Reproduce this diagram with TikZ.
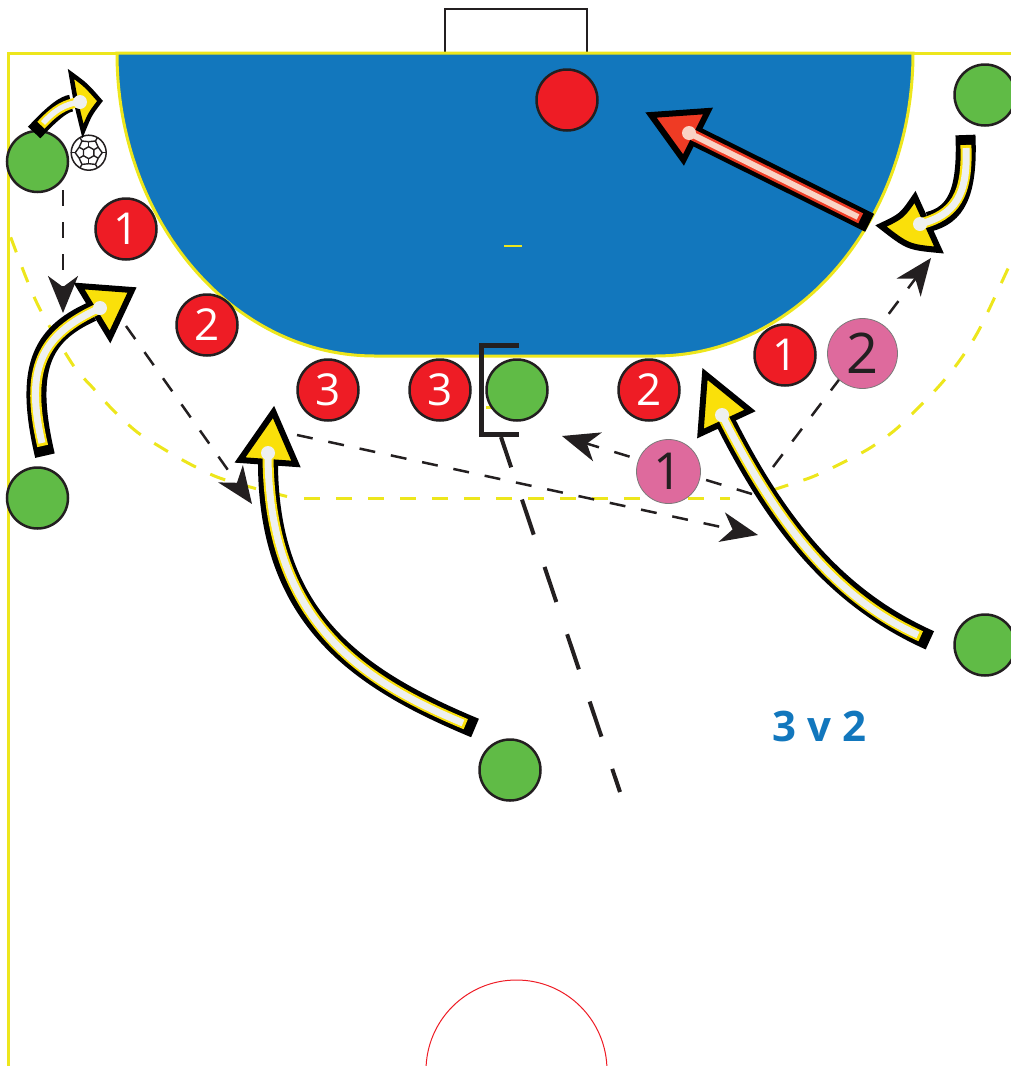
\documentclass[tikz,border=0pt]{standalone}
\usepackage{fontspec}
\setmainfont{Open Sans}
\usetikzlibrary{arrows.meta}
\definecolor{fieldyel}{HTML}{EDE61C}
\definecolor{courtblue}{HTML}{1277BD}
\definecolor{ink}{HTML}{231F20}
\definecolor{redp}{HTML}{EE1C25}
\definecolor{greenp}{HTML}{60BB46}
\definecolor{pinkp}{HTML}{DE6A9D}
\definecolor{runyel}{HTML}{FAE00A}
\definecolor{runlight}{HTML}{EEF0F0}
\definecolor{runred}{HTML}{EF3B24}
\definecolor{runpale}{HTML}{FAD3C5}
\newcommand{\fatrun}[9]{% main colour, light colour, path, head path, dot, black w, colour w, light w, head stroke
  \draw[black,line width=#6pt,shorten <=-13pt,shorten >=9pt] #3;
  \draw[fill=#1,draw=black,line width=#9pt,miter limit=10,line join=miter] #4;
  \draw[#1,line width=#7pt,shorten <=-3pt] #3;
  \draw[#2,line width=#8pt] #3;
  \fill[#2] #5 circle (7pt);
}
\tikzset{
  player/.style={circle,draw=ink,line width=2.5pt,minimum size=61pt,inner sep=0pt,text=white,font=\fontsize{44}{44}\selectfont},
  defender/.style={player,fill=redp},
  attacker/.style={player,fill=greenp},
  coach/.style={circle,draw=ink!60,line width=0.8pt,fill=pinkp,inner sep=0pt,text=ink},
  pass/.style={draw=ink,line width=2.5pt,dash pattern=on 16pt off 16pt,-{Stealth[length=37pt,width=30pt,inset=11pt]}},
  courtline/.style={fieldyel,line width=3pt},
  courtdash/.style={courtline,dash pattern=on 16pt off 16pt},
}
\begin{document}
\begin{tikzpicture}[x=1pt,y=-1pt]
\useasboundingbox (0,0) rectangle (1011,1066);
\clip (0,0) rectangle (1011,1066);
% court
\draw[courtline] (8,1066) -- (8,53) -- (1011,53);
\draw[ink,line width=2pt] (445,52) -- (445,9) -- (587,9) -- (587,52);
\draw[courtline,fill=courtblue] (117,53) .. controls (117,220) and (232,356) .. (375,356) -- (655,356) .. controls (798,356) and (913,220) .. (913,53) -- cycle;
\draw[courtline,line width=2pt] (504,246) -- (522,246);
\draw[courtline] (486,407) -- (540,407);
\draw[courtdash] plot[smooth] coordinates {(287,496.5) (250,487) (217,477) (188,463) (162,448) (137,432) (113,410) (93,388) (73,365) (42,313) (27,280) (8,230)};
\draw[courtdash] (304,498) -- (730,498);
\draw[courtdash] plot[smooth] coordinates {(773,490) (782,487) (812,477) (842,463) (870,448) (895,430) (918,408) (940,385) (960,360) (980,328) (1011,262)};
\draw[redp,line width=1pt] (516.5,1070.5) ++(180:90.5) arc[start angle=180,end angle=0,radius=90.5,y radius=-90.5];
% free ends
\coordinate (p1s) at (63,190); \coordinate (p1e) at (63,313);
\coordinate (p2s) at (126,326); \coordinate (p2e) at (252,504);
\coordinate (p3s) at (297,435); \coordinate (p3e) at (758,535);
\coordinate (p4s) at (752,494); \coordinate (p4e) at (562,436);
\coordinate (p5s) at (773,467); \coordinate (p5e) at (931,258);
\coordinate (cuts) at (501,437); \coordinate (cute) at (620,792);
% dashed passes
\draw[pass] (p1s) -- (p1e);
\draw[pass] (p2s) -- (p2e);
\draw[pass] (p3s) -- (p3e);
\draw[pass] (p4s) -- (p4e);
\draw[pass] (p5s) -- (p5e);
\draw[ink,line width=4pt,dash pattern=on 37pt off 34pt,dash phase=5pt] (cuts) -- (cute);
% players
\node[defender] (gk) at (567,100) {};
\node[defender] (d1) at (126,229) {1};
\node[defender] (d2) at (207,325) {2};
\node[defender] (d3) at (328,390) {3};
\node[defender] (d4) at (440,390) {3};
\node[defender] (d5) at (649,390) {2};
\node[defender] (d6) at (785,355) {1};
\node[attacker] (a1) at (37.5,161.5) {};
\node[attacker] (a2) at (985,95) {};
\node[attacker] (a3) at (37.5,498) {};
\node[attacker] (a4) at (517,390) {};
\node[attacker] (a5) at (985,645) {};
\node[attacker] (a6) at (510,770) {};
\node[coach,minimum size=64pt,font=\fontsize{51}{51}\selectfont] (c1) at (668.5,471.5) {1};
\node[coach,minimum size=70pt,font=\fontsize{56}{56}\selectfont] (c2) at (862.5,353.5) {2};
\draw[ink,line width=5pt,miter limit=10] (519,345.5) -- (481.5,345.5) -- (481.5,434) -- (519,434);
% ball
\node[circle,draw=ink,line width=1.5pt,fill=white,minimum size=35pt,inner sep=0pt] (ball) at (88.7,152.7) {};
\begin{scope}[shift={(ball.center)},ink,line width=1.4pt,line join=round]
  \draw (90:6) -- (150:6) -- (210:6) -- (270:6) -- (330:6) -- (30:6) -- cycle;
  \foreach \a in {30,90,150,210,270,330}{
    \draw (\a:6) -- (\a:11);
  }
  \foreach \a in {30,150,270}{
    \draw (\a:11) -- (\a+30:13.5) -- (\a+60:11);
    \draw (\a:11) -- (\a-30:13.5) -- (\a-60:11);
    \draw (\a+30:13.5) -- (\a+30:17.4);
    \draw (\a-30:13.5) -- (\a-30:17.4);
  }
\end{scope}
% runs
\coordinate (r1s) at (463,723); \coordinate (r1e) at (268,453);
\fatrun{runyel}{runlight}{(r1s) .. controls (360,680) and (268,620) .. (r1e)}{(273.5,412) -- (240,460) -- (296,464) -- cycle}{(r1e)}{20}{11}{7}{6}
\coordinate (r2s) at (918,635); \coordinate (r2e) at (722,415);
\fatrun{runyel}{runlight}{(r2s) .. controls (840,600) and (780,530) .. (r2e)}{(705,374) -- (700.5,433.5) -- (750,410.5) -- cycle}{(r2e)}{20}{11}{7}{6}
\coordinate (r3s) at (42,443); \coordinate (r3e) at (100,308);
\fatrun{runyel}{runlight}{(r3s) .. controls (25,370) and (40,335) .. (r3e)}{(79,286) -- (132,290) -- (110,337) -- cycle}{(r3e)}{20}{11}{7}{6}
\coordinate (r4s) at (43,123); \coordinate (r4e) at (80,102);
\fatrun{runyel}{runlight}{(r4s) .. controls (55,110) and (65,104) .. (r4e)}{(71,74) .. controls (86,85) .. (100,101) .. controls (90,114) .. (83,131) .. controls (76,103) .. cycle}{(r4e)}{17}{10}{5.5}{4.5}
\coordinate (r5s) at (966,148); \coordinate (r5e) at (920,224);
\fatrun{runyel}{runlight}{(r5s) .. controls (968,195) and (955,215) .. (r5e)}{(881,226) .. controls (902,216) .. (915,197) -- (939,250) .. controls (908,247) .. cycle}{(r5e)}{20}{11}{7}{6}
\coordinate (r6s) at (858,217); \coordinate (r6e) at (689,133);
\fatrun{runred}{runpale}{(r6s) -- (r6e)}{(651,115) -- (708,111) -- (683.5,160) -- cycle}{(r6e)}{20}{11}{6}{6}
% label
\node[text=courtblue,font=\fontsize{42}{42}\bfseries\selectfont,inner sep=0pt] (lab) at (819.5,726) {3 v 2};
\end{tikzpicture}
\end{document}
